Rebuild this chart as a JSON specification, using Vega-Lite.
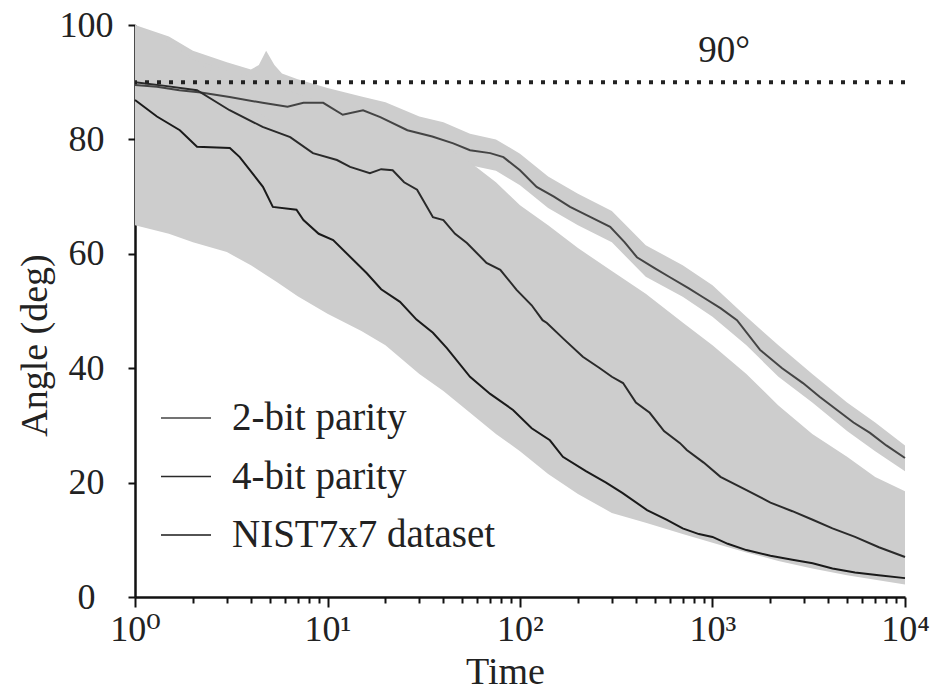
{
  "$schema": "https://vega.github.io/schema/vega-lite/v6.json",
  "width": 770,
  "height": 572,
  "autosize": {"type": "none"},
  "padding": {"left": 135, "top": 25, "right": 33, "bottom": 96},
  "background": "white",
  "config": {
    "view": {"stroke": null},
    "font": "Liberation Serif, DejaVu Serif, serif",
    "axis": {"labelFont": "Liberation Serif, DejaVu Serif, serif", "titleFont": "Liberation Serif, DejaVu Serif, serif", "labelColor": "#222", "titleColor": "#222", "titleFontWeight": "normal", "grid": false, "domainColor": "#111", "domainWidth": 2.5, "tickColor": "#111", "tickWidth": 2},
    "legend": {"labelFont": "Liberation Serif, DejaVu Serif, serif"}
  },
  "datasets": {
    "lines": [
      {"series": "2-bit parity", "t": 1, "angle": 89.5},
      {"series": "2-bit parity", "t": 1.3, "angle": 89.2},
      {"series": "2-bit parity", "t": 1.7, "angle": 88.6},
      {"series": "2-bit parity", "t": 2.2, "angle": 88.2},
      {"series": "2-bit parity", "t": 3.1, "angle": 87.4},
      {"series": "2-bit parity", "t": 4.6, "angle": 86.4},
      {"series": "2-bit parity", "t": 6.2, "angle": 85.7},
      {"series": "2-bit parity", "t": 7.5, "angle": 86.4},
      {"series": "2-bit parity", "t": 9.5, "angle": 86.4},
      {"series": "2-bit parity", "t": 12, "angle": 84.3},
      {"series": "2-bit parity", "t": 15.3, "angle": 85.1},
      {"series": "2-bit parity", "t": 18.8, "angle": 83.9},
      {"series": "2-bit parity", "t": 26, "angle": 81.6},
      {"series": "2-bit parity", "t": 35, "angle": 80.5},
      {"series": "2-bit parity", "t": 45, "angle": 79.3},
      {"series": "2-bit parity", "t": 55, "angle": 78.1},
      {"series": "2-bit parity", "t": 70, "angle": 77.6},
      {"series": "2-bit parity", "t": 82, "angle": 76.9},
      {"series": "2-bit parity", "t": 100, "angle": 74.6},
      {"series": "2-bit parity", "t": 122, "angle": 71.7},
      {"series": "2-bit parity", "t": 150, "angle": 70},
      {"series": "2-bit parity", "t": 182, "angle": 68.2},
      {"series": "2-bit parity", "t": 230, "angle": 66.5},
      {"series": "2-bit parity", "t": 294, "angle": 64.7},
      {"series": "2-bit parity", "t": 350, "angle": 62},
      {"series": "2-bit parity", "t": 405, "angle": 59.4},
      {"series": "2-bit parity", "t": 500, "angle": 57.5},
      {"series": "2-bit parity", "t": 601, "angle": 55.9},
      {"series": "2-bit parity", "t": 750, "angle": 54},
      {"series": "2-bit parity", "t": 893, "angle": 52.4},
      {"series": "2-bit parity", "t": 1100, "angle": 50.5},
      {"series": "2-bit parity", "t": 1340, "angle": 48.4},
      {"series": "2-bit parity", "t": 1766, "angle": 43.2},
      {"series": "2-bit parity", "t": 2300, "angle": 40},
      {"series": "2-bit parity", "t": 2951, "angle": 37.4},
      {"series": "2-bit parity", "t": 3600, "angle": 35},
      {"series": "2-bit parity", "t": 4436, "angle": 32.7},
      {"series": "2-bit parity", "t": 5400, "angle": 30.5},
      {"series": "2-bit parity", "t": 6577, "angle": 28.7},
      {"series": "2-bit parity", "t": 8000, "angle": 26.5},
      {"series": "2-bit parity", "t": 10000, "angle": 24.3},

      {"series": "4-bit parity", "t": 1, "angle": 90},
      {"series": "4-bit parity", "t": 1.4, "angle": 89.4},
      {"series": "4-bit parity", "t": 2.1, "angle": 88.6},
      {"series": "4-bit parity", "t": 3.1, "angle": 85.1},
      {"series": "4-bit parity", "t": 4.6, "angle": 82.2},
      {"series": "4-bit parity", "t": 6.4, "angle": 80.4},
      {"series": "4-bit parity", "t": 8.4, "angle": 77.6},
      {"series": "4-bit parity", "t": 11.2, "angle": 76.4},
      {"series": "4-bit parity", "t": 13.1, "angle": 75.2},
      {"series": "4-bit parity", "t": 16.6, "angle": 74.1},
      {"series": "4-bit parity", "t": 19, "angle": 74.8},
      {"series": "4-bit parity", "t": 21.8, "angle": 74.6},
      {"series": "4-bit parity", "t": 25, "angle": 72.5},
      {"series": "4-bit parity", "t": 29.2, "angle": 71.2},
      {"series": "4-bit parity", "t": 35.3, "angle": 66.4},
      {"series": "4-bit parity", "t": 40, "angle": 65.9},
      {"series": "4-bit parity", "t": 46, "angle": 63.5},
      {"series": "4-bit parity", "t": 53, "angle": 61.9},
      {"series": "4-bit parity", "t": 67, "angle": 58.4},
      {"series": "4-bit parity", "t": 79, "angle": 57.2},
      {"series": "4-bit parity", "t": 96, "angle": 53.7},
      {"series": "4-bit parity", "t": 115, "angle": 51},
      {"series": "4-bit parity", "t": 131, "angle": 48.4},
      {"series": "4-bit parity", "t": 138, "angle": 47.9},
      {"series": "4-bit parity", "t": 170, "angle": 45},
      {"series": "4-bit parity", "t": 212, "angle": 42},
      {"series": "4-bit parity", "t": 260, "angle": 40},
      {"series": "4-bit parity", "t": 300, "angle": 38.5},
      {"series": "4-bit parity", "t": 343, "angle": 37.4},
      {"series": "4-bit parity", "t": 400, "angle": 34},
      {"series": "4-bit parity", "t": 472, "angle": 32.2},
      {"series": "4-bit parity", "t": 560, "angle": 29},
      {"series": "4-bit parity", "t": 678, "angle": 26.9},
      {"series": "4-bit parity", "t": 735, "angle": 25.7},
      {"series": "4-bit parity", "t": 900, "angle": 23.5},
      {"series": "4-bit parity", "t": 1100, "angle": 21},
      {"series": "4-bit parity", "t": 1502, "angle": 18.7},
      {"series": "4-bit parity", "t": 2000, "angle": 16.5},
      {"series": "4-bit parity", "t": 2600, "angle": 15},
      {"series": "4-bit parity", "t": 3313, "angle": 13.5},
      {"series": "4-bit parity", "t": 4200, "angle": 12},
      {"series": "4-bit parity", "t": 5500, "angle": 10.5},
      {"series": "4-bit parity", "t": 7318, "angle": 8.7},
      {"series": "4-bit parity", "t": 10000, "angle": 7.0},

      {"series": "NIST7x7 dataset", "t": 1, "angle": 86.9},
      {"series": "NIST7x7 dataset", "t": 1.3, "angle": 84},
      {"series": "NIST7x7 dataset", "t": 1.71, "angle": 81.6},
      {"series": "NIST7x7 dataset", "t": 2.1, "angle": 78.7},
      {"series": "NIST7x7 dataset", "t": 3.11, "angle": 78.5},
      {"series": "NIST7x7 dataset", "t": 3.5, "angle": 76.9},
      {"series": "NIST7x7 dataset", "t": 4.62, "angle": 71.7},
      {"series": "NIST7x7 dataset", "t": 5.2, "angle": 68.2},
      {"series": "NIST7x7 dataset", "t": 6.9, "angle": 67.7},
      {"series": "NIST7x7 dataset", "t": 7.5, "angle": 65.9},
      {"series": "NIST7x7 dataset", "t": 9, "angle": 63.5},
      {"series": "NIST7x7 dataset", "t": 10.7, "angle": 62.4},
      {"series": "NIST7x7 dataset", "t": 16, "angle": 56.6},
      {"series": "NIST7x7 dataset", "t": 19, "angle": 53.8},
      {"series": "NIST7x7 dataset", "t": 23.8, "angle": 51.6},
      {"series": "NIST7x7 dataset", "t": 29, "angle": 48.5},
      {"series": "NIST7x7 dataset", "t": 35.3, "angle": 46.2},
      {"series": "NIST7x7 dataset", "t": 41.7, "angle": 43.5},
      {"series": "NIST7x7 dataset", "t": 55, "angle": 38.5},
      {"series": "NIST7x7 dataset", "t": 70, "angle": 35.5},
      {"series": "NIST7x7 dataset", "t": 92, "angle": 32.7},
      {"series": "NIST7x7 dataset", "t": 115, "angle": 29.5},
      {"series": "NIST7x7 dataset", "t": 143, "angle": 27.4},
      {"series": "NIST7x7 dataset", "t": 167, "angle": 24.5},
      {"series": "NIST7x7 dataset", "t": 220, "angle": 22},
      {"series": "NIST7x7 dataset", "t": 280, "angle": 20},
      {"series": "NIST7x7 dataset", "t": 340, "angle": 18.2},
      {"series": "NIST7x7 dataset", "t": 457, "angle": 15.2},
      {"series": "NIST7x7 dataset", "t": 580, "angle": 13.5},
      {"series": "NIST7x7 dataset", "t": 700, "angle": 12},
      {"series": "NIST7x7 dataset", "t": 850, "angle": 11},
      {"series": "NIST7x7 dataset", "t": 1000, "angle": 10.5},
      {"series": "NIST7x7 dataset", "t": 1200, "angle": 9.3},
      {"series": "NIST7x7 dataset", "t": 1500, "angle": 8.2},
      {"series": "NIST7x7 dataset", "t": 2000, "angle": 7.2},
      {"series": "NIST7x7 dataset", "t": 2600, "angle": 6.5},
      {"series": "NIST7x7 dataset", "t": 3313, "angle": 5.9},
      {"series": "NIST7x7 dataset", "t": 4200, "angle": 5},
      {"series": "NIST7x7 dataset", "t": 5500, "angle": 4.3},
      {"series": "NIST7x7 dataset", "t": 7300, "angle": 3.8},
      {"series": "NIST7x7 dataset", "t": 10000, "angle": 3.3}
    ],
    "bands": [
      {"series": "2-bit parity", "t": 1, "lo": 85, "hi": 100},
      {"series": "2-bit parity", "t": 1.5, "lo": 85, "hi": 98},
      {"series": "2-bit parity", "t": 2, "lo": 84.5, "hi": 95.5},
      {"series": "2-bit parity", "t": 3, "lo": 84, "hi": 93.5},
      {"series": "2-bit parity", "t": 4, "lo": 83.5, "hi": 92.2},
      {"series": "2-bit parity", "t": 4.4, "lo": 83.3, "hi": 93},
      {"series": "2-bit parity", "t": 4.8, "lo": 83, "hi": 95.5},
      {"series": "2-bit parity", "t": 5.3, "lo": 82.7, "hi": 93},
      {"series": "2-bit parity", "t": 5.8, "lo": 82.5, "hi": 91.5},
      {"series": "2-bit parity", "t": 7, "lo": 83, "hi": 90.5},
      {"series": "2-bit parity", "t": 10, "lo": 83, "hi": 89},
      {"series": "2-bit parity", "t": 15, "lo": 82, "hi": 87.5},
      {"series": "2-bit parity", "t": 20, "lo": 81, "hi": 86.5},
      {"series": "2-bit parity", "t": 30, "lo": 78.5, "hi": 84},
      {"series": "2-bit parity", "t": 40, "lo": 77, "hi": 83},
      {"series": "2-bit parity", "t": 55, "lo": 75.5, "hi": 81},
      {"series": "2-bit parity", "t": 75, "lo": 74.5, "hi": 80},
      {"series": "2-bit parity", "t": 100, "lo": 72, "hi": 77.5},
      {"series": "2-bit parity", "t": 140, "lo": 68, "hi": 73.5},
      {"series": "2-bit parity", "t": 200, "lo": 65, "hi": 70.5},
      {"series": "2-bit parity", "t": 300, "lo": 62, "hi": 67.5},
      {"series": "2-bit parity", "t": 450, "lo": 56, "hi": 61.5},
      {"series": "2-bit parity", "t": 700, "lo": 52.5, "hi": 58},
      {"series": "2-bit parity", "t": 1000, "lo": 49, "hi": 54.5},
      {"series": "2-bit parity", "t": 1500, "lo": 44, "hi": 49},
      {"series": "2-bit parity", "t": 2200, "lo": 38.5, "hi": 44},
      {"series": "2-bit parity", "t": 3300, "lo": 34, "hi": 39},
      {"series": "2-bit parity", "t": 5000, "lo": 29, "hi": 34},
      {"series": "2-bit parity", "t": 7000, "lo": 25.5, "hi": 30.5},
      {"series": "2-bit parity", "t": 10000, "lo": 22, "hi": 26.5},

      {"series": "4-bit parity", "t": 1, "lo": 84, "hi": 96},
      {"series": "4-bit parity", "t": 1.5, "lo": 82, "hi": 95},
      {"series": "4-bit parity", "t": 2, "lo": 79, "hi": 94},
      {"series": "4-bit parity", "t": 3, "lo": 78, "hi": 92},
      {"series": "4-bit parity", "t": 4, "lo": 73, "hi": 91},
      {"series": "4-bit parity", "t": 5.5, "lo": 68, "hi": 89},
      {"series": "4-bit parity", "t": 7, "lo": 67, "hi": 88},
      {"series": "4-bit parity", "t": 10, "lo": 63, "hi": 86},
      {"series": "4-bit parity", "t": 15, "lo": 57, "hi": 84},
      {"series": "4-bit parity", "t": 20, "lo": 54, "hi": 83},
      {"series": "4-bit parity", "t": 30, "lo": 48, "hi": 81},
      {"series": "4-bit parity", "t": 40, "lo": 44, "hi": 79},
      {"series": "4-bit parity", "t": 55, "lo": 39, "hi": 76},
      {"series": "4-bit parity", "t": 75, "lo": 35, "hi": 72.5},
      {"series": "4-bit parity", "t": 100, "lo": 32, "hi": 68.5},
      {"series": "4-bit parity", "t": 140, "lo": 27.5, "hi": 65},
      {"series": "4-bit parity", "t": 200, "lo": 22.5, "hi": 61},
      {"series": "4-bit parity", "t": 300, "lo": 19, "hi": 57},
      {"series": "4-bit parity", "t": 450, "lo": 15.5, "hi": 53},
      {"series": "4-bit parity", "t": 700, "lo": 12, "hi": 48},
      {"series": "4-bit parity", "t": 1000, "lo": 10.5, "hi": 44},
      {"series": "4-bit parity", "t": 1500, "lo": 8.5, "hi": 39},
      {"series": "4-bit parity", "t": 2200, "lo": 7, "hi": 33.5},
      {"series": "4-bit parity", "t": 3300, "lo": 6, "hi": 28.5},
      {"series": "4-bit parity", "t": 5000, "lo": 4.5, "hi": 24.5},
      {"series": "4-bit parity", "t": 7000, "lo": 3.8, "hi": 21},
      {"series": "4-bit parity", "t": 10000, "lo": 3.2, "hi": 18.5},

      {"series": "NIST7x7 dataset", "t": 1, "lo": 65, "hi": 100},
      {"series": "NIST7x7 dataset", "t": 1.5, "lo": 63.5, "hi": 97},
      {"series": "NIST7x7 dataset", "t": 2, "lo": 62, "hi": 94},
      {"series": "NIST7x7 dataset", "t": 3, "lo": 60.3, "hi": 90},
      {"series": "NIST7x7 dataset", "t": 4, "lo": 58, "hi": 86},
      {"series": "NIST7x7 dataset", "t": 5.5, "lo": 55, "hi": 82},
      {"series": "NIST7x7 dataset", "t": 7, "lo": 52.6, "hi": 80},
      {"series": "NIST7x7 dataset", "t": 10, "lo": 49.5, "hi": 77},
      {"series": "NIST7x7 dataset", "t": 15, "lo": 46.5, "hi": 74.5},
      {"series": "NIST7x7 dataset", "t": 20, "lo": 44, "hi": 74},
      {"series": "NIST7x7 dataset", "t": 30, "lo": 39, "hi": 70},
      {"series": "NIST7x7 dataset", "t": 40, "lo": 36, "hi": 65.5},
      {"series": "NIST7x7 dataset", "t": 55, "lo": 32.2, "hi": 61},
      {"series": "NIST7x7 dataset", "t": 75, "lo": 28.5, "hi": 57.5},
      {"series": "NIST7x7 dataset", "t": 100, "lo": 25.5, "hi": 53},
      {"series": "NIST7x7 dataset", "t": 140, "lo": 21.5, "hi": 48},
      {"series": "NIST7x7 dataset", "t": 200, "lo": 18, "hi": 42.5},
      {"series": "NIST7x7 dataset", "t": 300, "lo": 14.7, "hi": 38.5},
      {"series": "NIST7x7 dataset", "t": 450, "lo": 13, "hi": 32.5},
      {"series": "NIST7x7 dataset", "t": 700, "lo": 11, "hi": 26.5},
      {"series": "NIST7x7 dataset", "t": 1000, "lo": 9.5, "hi": 22.5},
      {"series": "NIST7x7 dataset", "t": 1500, "lo": 7.8, "hi": 18.7},
      {"series": "NIST7x7 dataset", "t": 2200, "lo": 6.3, "hi": 16},
      {"series": "NIST7x7 dataset", "t": 3300, "lo": 5, "hi": 13.5},
      {"series": "NIST7x7 dataset", "t": 5000, "lo": 3.8, "hi": 11},
      {"series": "NIST7x7 dataset", "t": 7000, "lo": 3, "hi": 9},
      {"series": "NIST7x7 dataset", "t": 10000, "lo": 2.2, "hi": 7}
    ],
    "ref": [
      {"t": 1148, "angle": 90, "labelY": 93.5, "label": "90°"}
    ]
  },
  "layer": [
    {
      "data": {"name": "bands"},
      "mark": {"type": "area", "fill": "#cdcdcd", "opacity": 1, "strokeWidth": 0},
      "encoding": {
        "x": {"field": "t", "type": "quantitative"},
        "y": {"field": "lo", "type": "quantitative"},
        "y2": {"field": "hi"},
        "detail": {"field": "series", "type": "nominal"}
      }
    },
    {
      "data": {"name": "lines"},
      "mark": {"type": "line", "strokeWidth": 2},
      "encoding": {
        "x": {
          "field": "t", "type": "quantitative",
          "scale": {"type": "log", "domain": [1, 10000], "nice": false},
          "axis": {
            "title": "Time", "titleFontSize": 38, "titleX": 370, "titleY": 86, "titleBaseline": "alphabetic", "titleAnchor": "middle",
            "values": [1,2,3,4,5,6,7,8,9,10,20,30,40,50,60,70,80,90,100,200,300,400,500,600,700,800,900,1000,2000,3000,4000,5000,6000,7000,8000,9000,10000],
            "labelExpr": "datum.value == 1 ? '10⁰' : datum.value == 10 ? '10¹' : datum.value == 100 ? '10²' : datum.value == 1000 ? '10³' : datum.value == 10000 ? '10⁴' : ''",
            "labelFontSize": 36, "labelPadding": 5, "labelOverlap": false, "labelBound": false, "labelFlush": false,
            "tickSize": {"condition": {"test": "indexof([1,10,100,1000,10000], datum.value) >= 0", "value": 10}, "value": 6}
          }
        },
        "y": {
          "field": "angle", "type": "quantitative",
          "scale": {"domain": [0, 100], "nice": false},
          "axis": {
            "title": "Angle (deg)", "titleFontSize": 38, "titleX": -100, "titleY": 320, "titleBaseline": "middle", "titleAngle": -90,
            "values": [0, 20, 40, 60, 80, 100], "labelFontSize": 36, "labelAlign": "center", "labelBaseline": "middle",
            "labelPadding": 42, "tickSize": 7, "labelOverlap": false, "labelBound": false, "labelFlush": false
          }
        },
        "color": {
          "field": "series", "type": "nominal",
          "scale": {"domain": ["2-bit parity", "4-bit parity", "NIST7x7 dataset"], "range": ["#444444", "#2a2a2a", "#1a1a1a"]},
          "legend": {
            "title": null, "orient": "none", "legendX": 25, "legendY": 367, "padding": 0,
            "symbolType": "stroke", "symbolSize": 2500, "symbolStrokeWidth": 1.5, "symbolStrokeColor": "#777",
            "labelFontSize": 39, "labelColor": "#222", "labelOffset": 20, "rowPadding": 12.5, "labelLimit": 500
          }
        }
      }
    },
    {
      "data": {"name": "ref"},
      "mark": {"type": "rule", "stroke": "#222", "strokeWidth": 4, "strokeDash": [4, 8]},
      "encoding": {"y": {"field": "angle", "type": "quantitative"}}
    },
    {
      "data": {"name": "ref"},
      "mark": {"type": "text", "font": "Liberation Serif, DejaVu Serif, serif", "fontSize": 37, "color": "#222", "align": "center", "baseline": "alphabetic"},
      "encoding": {
        "x": {"field": "t", "type": "quantitative"},
        "y": {"field": "labelY", "type": "quantitative"},
        "text": {"field": "label"}
      }
    }
  ]
}
